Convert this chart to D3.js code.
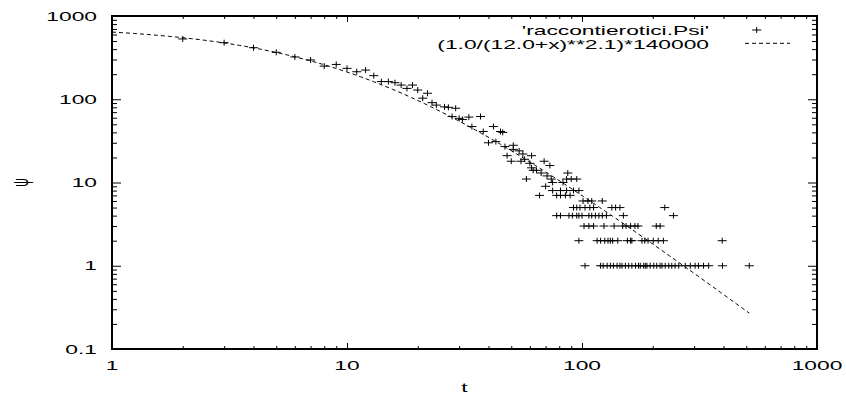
<!DOCTYPE html>
<html>
<head>
<meta charset="utf-8">
<script src="https://cdnjs.cloudflare.com/ajax/libs/d3/7.8.5/d3.min.js"></script>
<style>
body { margin: 0; background: #fff; }
text { font-family: "Liberation Sans", Arial, Helvetica, sans-serif; font-size: 12px; fill: #000; }
.tick line { stroke: #000; stroke-width: 1; }
</style>
</head>
<body>
<script>
/**
 * psi(t) log-log plot, gnuplot look
 */

// points t = 2 .. 100 (one or more per t)
var tHead = [2, 3, 4, 5, 6, 7, 8, 9, 10, 11, 12, 13, 14, 15, 16, 17, 18, 19, 20, 21,
    22, 23, 24, 26, 27, 28, 29, 30, 31, 33, 34, 37, 38, 40, 42, 43, 45, 46, 47, 48,
    50, 51, 51, 54, 55, 56, 57, 58, 60, 61, 61, 62, 64, 66, 67, 69, 70, 71, 73, 74,
    75, 75, 78, 78, 81, 81, 81, 83, 85, 86, 86, 87, 88, 89, 90, 91, 92, 92, 95, 95,
    95, 97, 97, 97, 98, 100];
var psiHead = [530, 478, 416, 366, 322, 296, 250, 262, 235, 214, 224, 192, 163, 163, 158, 148, 135, 148, 129, 103,
    118, 91, 85, 81, 80, 62, 78, 59, 57, 61, 47, 62, 41, 30, 47, 31, 41, 40, 27, 21,
    18, 28, 25, 24, 18, 22, 19, 11, 17, 21, 15, 14, 14, 7, 13, 18, 9, 12, 16, 11,
    10, 8, 7, 4, 8, 7, 4, 10, 7, 11, 8, 13, 4, 7, 11, 4, 5, 8, 11, 5,
    4, 8, 4, 2, 5, 4];

// tail: t values sitting on the low integer levels
var tailLevels = [6, 5, 4, 3, 2, 1];
var tailT = [
    [101, 106, 110, 122],
    [103, 108, 112, 134, 139, 145, 225],
    [107, 110, 114, 118, 122, 127, 150, 245],
    [102, 107, 112, 124, 137, 149, 154, 161, 168, 173, 207, 215],
    [116, 120, 125, 129, 132, 135, 142, 156, 161, 163, 180, 185, 191, 201, 211, 222, 395],
    [103, 120, 123, 128, 132, 136, 141, 145, 148, 153, 158, 163, 169, 174, 177, 183, 186, 189,
        195, 202, 208, 215, 219, 226, 234, 241, 249, 258, 275, 289, 303, 313, 329, 346, 396, 515]
];

// fit: (1.0/(12.0+x)**2.1)*140000
var fitA = 12.0, fitP = 2.1, fitC = 140000;
var fitRange = [1, 515];

var xMajor = [1, 10, 100, 1000];
var yMajor = [0.1, 1, 10, 100, 1000];
var legendLabels = ["'raccontierotici.Psi'", "(1.0/(12.0+x)**2.1)*140000"];

// build one list of points
var data = [];
tHead.forEach(function (t, i) { data.push({ t: t, psi: psiHead[i] }); });
tailLevels.forEach(function (lv, j) {
    tailT[j].forEach(function (t) { data.push({ t: t, psi: lv }); });
});

var margin = { top: 16, right: 29, bottom: 49, left: 112 },
    width = 846 - margin.left - margin.right,
    height = 398 - margin.top - margin.bottom;

// text is stretched sideways like the original
var sx = 1.9;

var x = d3.scaleLog().domain([1, 1000]).range([0, width]);
var y = d3.scaleLog().domain([0.1, 1000]).range([height, 0]);

function minors(majors) {
    var out = [];
    majors.slice(0, -1).forEach(function (d) {
        for (var k = 2; k < 10; k++) out.push(d * k);
    });
    return out;
}
var xMinor = minors(xMajor);
var yMinor = minors(yMajor);

var svg = d3.select("body").append("svg")
    .attr("width", 846)
    .attr("height", 398)
    .style("background", "#fff")
    .append("g")
    .attr("transform", "translate(" + margin.left + "," + margin.top + ")");

// ticks on all four sides, pointing inward
function addTicks(axisFn, vals, size, tr) {
    var g = svg.append("g")
        .attr("transform", tr)
        .call(axisFn.tickValues(vals).tickSize(-size).tickSizeOuter(0).tickFormat(""));
    g.select(".domain").remove();
}
addTicks(d3.axisBottom(x), xMajor, 6, "translate(0," + height + ")");
addTicks(d3.axisBottom(x), xMinor, 3, "translate(0," + height + ")");
addTicks(d3.axisTop(x), xMajor, 6, "translate(0,0)");
addTicks(d3.axisTop(x), xMinor, 3, "translate(0,0)");
addTicks(d3.axisLeft(y), yMajor, 9, "translate(0,0)");
addTicks(d3.axisLeft(y), yMinor, 5, "translate(0,0)");
addTicks(d3.axisRight(y), yMajor, 9, "translate(" + width + ",0)");
addTicks(d3.axisRight(y), yMinor, 5, "translate(" + width + ",0)");

// frame
svg.append("rect")
    .attr("width", width)
    .attr("height", height)
    .attr("fill", "none")
    .attr("stroke", "#000")
    .attr("stroke-width", 2);

// tick labels
svg.selectAll(".xlab")
    .data(xMajor)
    .enter().append("text")
    .attr("transform", function (d) { return "translate(" + x(d) + "," + (height + 21) + ") scale(" + sx + ",1)"; })
    .attr("text-anchor", "middle")
    .text(function (d) { return String(d); });

svg.selectAll(".ylab")
    .data(yMajor)
    .enter().append("text")
    .attr("transform", function (d) { return "translate(-15," + (y(d) + 4.5) + ") scale(" + sx + ",1)"; })
    .attr("text-anchor", "end")
    .text(function (d) { return String(d); });

// axis labels
svg.append("text")
    .attr("transform", "translate(" + (width / 2) + "," + (height + 42.7) + ") scale(" + sx + ",1)")
    .attr("text-anchor", "middle")
    .text("t");

svg.append("text")
    .attr("transform", "translate(-92," + y(10) + ") scale(" + sx + ",1) rotate(-90)")
    .attr("text-anchor", "middle")
    .attr("dy", "0.35em")
    .text("ψ");

// fit curve
var fitT = d3.range(0, 201).map(function (i) {
    return fitRange[0] * Math.pow(fitRange[1] / fitRange[0], i / 200);
});
var fitLine = d3.line()
    .x(function (t) { return x(t); })
    .y(function (t) { return y(fitC / Math.pow(fitA + t, fitP)); });

svg.append("path")
    .datum(fitT)
    .attr("fill", "none")
    .attr("stroke", "#000")
    .attr("stroke-width", 1)
    .attr("stroke-dasharray", "4,3")
    .attr("d", fitLine);

// data points as '+'
var plus = "M-4.5,0H4.5M0,-3V3";
svg.selectAll(".pt")
    .data(data)
    .enter().append("path")
    .attr("class", "pt")
    .attr("transform", function (d) { return "translate(" + x(d.t) + "," + y(d.psi) + ")"; })
    .attr("d", plus)
    .attr("stroke", "#000")
    .attr("stroke-width", 1)
    .attr("fill", "none");

// legend
svg.append("text")
    .attr("transform", "translate(597,18.5) scale(" + sx + ",1)")
    .attr("text-anchor", "end")
    .text(legendLabels[0]);
svg.append("path")
    .attr("transform", "translate(644.7,14)")
    .attr("d", plus)
    .attr("stroke", "#000")
    .attr("fill", "none");

svg.append("text")
    .attr("transform", "translate(597,32.5) scale(" + sx + ",1)")
    .attr("text-anchor", "end")
    .text(legendLabels[1]);
svg.append("line")
    .attr("x1", 633).attr("x2", 678)
    .attr("y1", 27.3).attr("y2", 27.3)
    .attr("stroke", "#000")
    .attr("stroke-dasharray", "4,3");
</script>
</body>
</html>
